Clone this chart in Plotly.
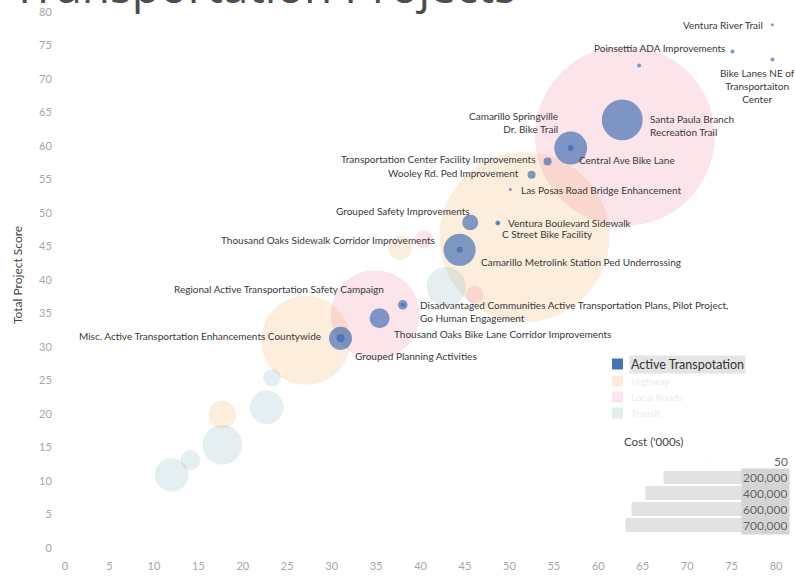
import plotly.graph_objects as go

# ---------------- data ----------------
# Active Transportation projects: x score, total project score, cost ('000s)
active_names = [
    "Ventura River Trail",
    "Poinsettia ADA Improvements",
    "Bike Lanes NE of<br>Transportaiton<br>Center",
    "",
    "Santa Paula Branch<br>Recreation Trail",
    "Camarillo Springville<br>Dr. Bike Trail",
    "Central Ave Bike Lane",
    "Transportation Center Facility Improvements",
    "Wooley Rd. Ped Improvement",
    "Las Posas Road Bridge Enhancement",
    "Grouped Safety Improvements",
    "Ventura Boulevard Sidewalk",
    "C Street Bike Facility",
    "Camarillo Metrolink Station Ped Underrossing",
    "Thousand Oaks Sidewalk Corridor Improvements",
    "Regional Active Transportation Safety Campaign",
    "Disadvantaged Communities Active Transportation Plans, Pilot Project,<br>Go Human Engagement",
    "Thousand Oaks Bike Lane Corridor Improvements",
    "Misc. Active Transportation Enhancements Countywide",
    "Grouped Planning Activities",
]
active_x = [79.6, 75.1, 79.6, 64.6, 62.7, 56.9, 56.9, 54.3, 52.5, 50.1,
            45.6, 48.7, 48.7, 44.4, 44.4, 38.0, 38.0, 35.4, 31.0, 31.0]
active_y = [78.1, 74.1, 72.9, 72.0, 63.9, 59.7, 59.7, 57.7, 55.7, 53.5,
            48.6, 48.5, 48.5, 44.5, 44.5, 36.3, 36.3, 34.3, 31.3, 31.3]
active_cost = [240, 420, 420, 420, 44000, 28500, 950, 1700, 1700, 240,
               6700, 660, 160, 27000, 950, 420, 2400, 10500, 13900, 1700]

# Other program categories (shown muted)
roadway_x = [51.7, 27.1, 37.7, 17.7]
roadway_y = [46.4, 31.0, 44.8, 19.9]
roadway_cost = [760000, 209000, 14800, 20200]

local_x = [63.0, 34.9, 46.1, 40.4]
local_y = [61.5, 34.8, 37.8, 46.1]
local_cost = [850000, 209000, 8300, 8300]

transit_x = [42.9, 22.7, 23.3, 17.7, 12.0, 14.1]
transit_y = [39.0, 21.0, 25.4, 15.4, 10.9, 13.1]
transit_cost = [41000, 29800, 8300, 41000, 29800, 10300]

category_names = ["Active Transpotation", "Highway", "Local Roads", "Transit"]
size_legend_costs = [50, 200000, 400000, 600000, 700000]
x_ticks = list(range(0, 81, 5))
y_ticks = list(range(0, 81, 5))

# ---------------- styling ----------------
SIZEREF = 5.13          # marker diameter (px) = sqrt(cost) / SIZEREF
BLUE = "rgba(55,102,176,0.92)"
ORANGE = "rgba(247,190,130,0.40)"
PINK = "rgba(240,150,170,0.35)"
TEAL = "rgba(160,195,200,0.40)"
LABEL_FONT = dict(family="Lato, sans-serif", size=10, color="#383838")

# label placement per project: (xanchor, xshift, yshift, align)
label_place = {
    "Ventura River Trail": ("right", -7, 0, "right"),
    "Poinsettia ADA Improvements": ("right", -5, 4, "right"),
    "Bike Lanes NE of<br>Transportaiton<br>Center": ("center", -15, -26, "center"),
    "Santa Paula Branch<br>Recreation Trail": ("left", 26, -6, "left"),
    "Camarillo Springville<br>Dr. Bike Trail": ("right", -11, 26, "right"),
    "Central Ave Bike Lane": ("left", 6, -12, "left"),
    "Transportation Center Facility Improvements": ("right", -11, 2, "right"),
    "Wooley Rd. Ped Improvement": ("right", -11, 2, "right"),
    "Las Posas Road Bridge Enhancement": ("left", 9, 0, "left"),
    "Grouped Safety Improvements": ("right", 2, 11, "right"),
    "Ventura Boulevard Sidewalk": ("left", 8, 0, "left"),
    "C Street Bike Facility": ("left", 2, -11, "left"),
    "Camarillo Metrolink Station Ped Underrossing": ("left", 19, -12, "left"),
    "Thousand Oaks Sidewalk Corridor Improvements": ("right", -23, 10, "right"),
    "Regional Active Transportation Safety Campaign": ("right", -17, 16, "right"),
    "Disadvantaged Communities Active Transportation Plans, Pilot Project,<br>Go Human Engagement": ("left", 15, -7, "left"),
    "Thousand Oaks Bike Lane Corridor Improvements": ("left", 12, -16, "left"),
    "Misc. Active Transportation Enhancements Countywide": ("right", -18, 2, "right"),
    "Grouped Planning Activities": ("left", 12, -18, "left"),
}

# page geometry (px)
W, H = 795, 586
ML, MR, MT, MB = 65, 3, 12, 38
PW, PH = W - ML - MR, H - MT - MB


def px_x(px):
    return (px - ML) / PW


def px_y(py):
    return (H - MB - py) / PH


def sq(values):
    return [v ** 0.5 for v in values]


fig = go.Figure()


def add_bubbles(xs, ys, costs, color, name):
    order = sorted(range(len(costs)), key=lambda i: -costs[i])
    fig.add_trace(go.Scatter(
        x=[xs[i] for i in order], y=[ys[i] for i in order],
        mode="markers", name=name, showlegend=False, cliponaxis=False,
        marker=dict(size=sq([costs[i] for i in order]), sizemode="diameter",
                    sizeref=SIZEREF, color=color, line=dict(width=0)),
        hoverinfo="skip",
    ))


add_bubbles(roadway_x, roadway_y, roadway_cost, ORANGE, category_names[1])
add_bubbles(local_x, local_y, local_cost, PINK, category_names[2])
add_bubbles(transit_x, transit_y, transit_cost, TEAL, category_names[3])
add_bubbles(active_x, active_y, active_cost, BLUE, category_names[0])

annotations = []
for name, x, y in zip(active_names, active_x, active_y):
    if not name:
        continue
    xa, xs, ys, al = label_place[name]
    annotations.append(dict(
        x=x, y=y, xref="x", yref="y", text=name, showarrow=False,
        xanchor=xa, yanchor="middle", xshift=xs, yshift=ys, align=al,
        font=LABEL_FONT,
    ))

# title (runs off the top edge)
annotations.append(dict(
    x=px_x(10), y=px_y(18), xref="paper", yref="paper", xanchor="left",
    yanchor="bottom", text="Transportation Projects", showarrow=False,
    font=dict(family="Open Sans, sans-serif", size=46, color="#4d4d4d"),
))

# y axis title
annotations.append(dict(
    x=px_x(18), y=px_y(275), xref="paper", yref="paper", text="Total Project Score",
    showarrow=False, textangle=-90, xanchor="center", yanchor="middle",
    font=dict(family="Lato, sans-serif", size=12, color="#444444"),
))

# colour legend
shapes = []
legend_colors = [BLUE, "rgba(247,190,130,0.30)", "rgba(240,150,170,0.25)", "rgba(160,195,200,0.30)"]
legend_rows = [364, 381, 397, 413]
for i, (nm, col, ry) in enumerate(zip(category_names, legend_colors, legend_rows)):
    shapes.append(dict(type="rect", xref="paper", yref="paper",
                       x0=px_x(612), x1=px_x(623), y0=px_y(ry + 5.5), y1=px_y(ry - 5.5),
                       fillcolor=col, line=dict(width=0)))
    annotations.append(dict(
        x=px_x(629), y=px_y(ry), xref="paper", yref="paper", xanchor="left",
        yanchor="middle", text=nm, showarrow=False,
        bgcolor="#e4e4e4" if i == 0 else None, borderpad=1,
        font=dict(family="Lato, sans-serif", size=12.5 if i == 0 else 10,
                  color="#333333" if i == 0 else "#ececec"),
    ))

# size legend
annotations.append(dict(
    x=px_x(622), y=px_y(441), xref="paper", yref="paper", xanchor="left",
    yanchor="middle", text="Cost ('000s)", showarrow=False,
    font=dict(family="Lato, sans-serif", size=11.5, color="#444444"),
))
bands = [(455, 468), (471, 484), (486, 500), (502, 516), (518, 532)]
layout_axes = {}
for k, (cost, (top, bot)) in enumerate(zip(size_legend_costs, bands)):
    ax = k + 2
    fig.add_trace(go.Scatter(
        x=[707], y=[0], xaxis=f"x{ax}", yaxis=f"y{ax}", mode="markers",
        showlegend=False, hoverinfo="skip",
        marker=dict(size=sq([cost]), sizemode="diameter", sizeref=SIZEREF,
                    color="#d5d5d5", line=dict(width=0)),
    ))
    layout_axes[f"xaxis{ax}"] = dict(domain=[px_x(600), px_x(790)], range=[600, 790],
                                     visible=False, fixedrange=True, anchor=f"y{ax}",
                                     automargin=False)
    layout_axes[f"yaxis{ax}"] = dict(domain=[px_y(bot), px_y(top)], range=[-1, 1],
                                     visible=False, fixedrange=True, anchor=f"x{ax}",
                                     automargin=False)
    annotations.append(dict(
        x=px_x(790), y=px_y((top + bot) / 2), xref="paper", yref="paper",
        xanchor="right", yanchor="middle", text=f"{cost:,}", showarrow=False,
        bgcolor="#d5d5d5" if cost > 100 else None, borderpad=1,
        font=dict(family="Lato, sans-serif", size=12, color="#666666"),
    ))

axis_font = dict(family="Lato, sans-serif", size=11, color="#a6a6a6")
fig.update_layout(
    width=W, height=H, autosize=False,
    margin=dict(l=ML, r=MR, t=MT, b=MB, autoexpand=False),
    paper_bgcolor="white", plot_bgcolor="white",
    showlegend=False,
    xaxis=dict(domain=[0, px_x(776)], range=[0, 80], tickvals=x_ticks,
               showgrid=False, zeroline=False, showline=False, automargin=False,
               ticks="outside", ticklen=8, tickcolor="rgba(0,0,0,0)",
               tickfont=axis_font, fixedrange=True),
    yaxis=dict(domain=[0, 1], range=[0, 80], tickvals=y_ticks,
               showgrid=False, zeroline=False, showline=False, automargin=False,
               ticks="outside", ticklen=10, tickcolor="rgba(0,0,0,0)",
               tickfont=axis_font, fixedrange=True),
    annotations=annotations,
    shapes=shapes,
    **layout_axes,
)

fig.write_html("out.html")
